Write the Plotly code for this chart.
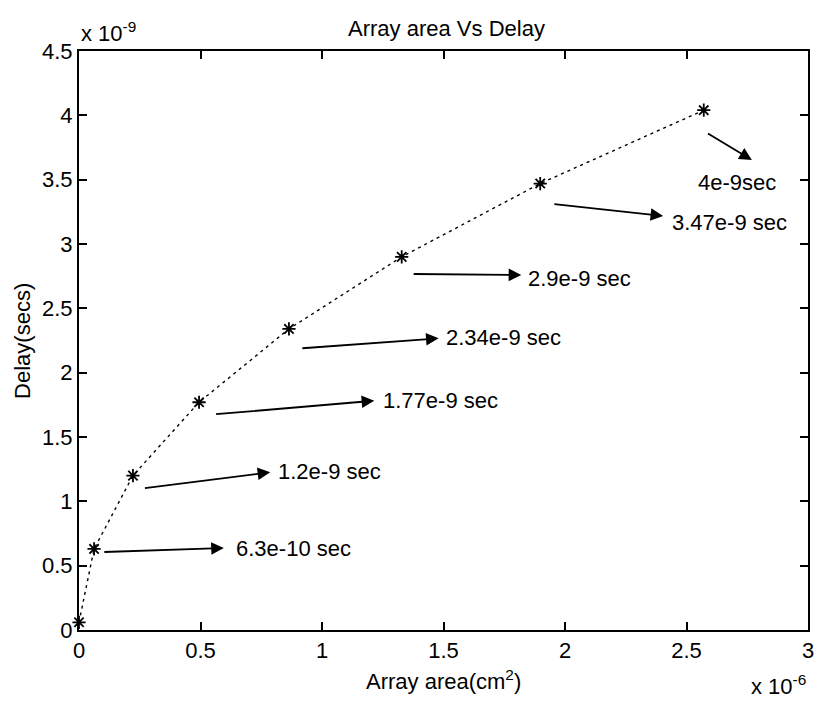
import plotly.graph_objects as go

# Data (x in units of 1e-6 cm^2, y in units of 1e-9 s)
area = [0.0, 0.062, 0.222, 0.494, 0.864, 1.328, 1.898, 2.571]
delay = [0.06, 0.63, 1.20, 1.77, 2.34, 2.90, 3.47, 4.04]

labels = ["6.3e-10 sec", "1.2e-9 sec", "1.77e-9 sec", "2.34e-9 sec",
          "2.9e-9 sec", "3.47e-9 sec", "4e-9sec"]
# arrow tails / heads and label anchors (data units)
tail_x = [0.098, 0.265, 0.558, 0.913, 1.371, 1.950, 2.582]
tail_y = [0.606, 1.101, 1.676, 2.189, 2.767, 3.311, 3.865]
head_x = [0.596, 0.787, 1.215, 1.480, 1.820, 2.404, 2.769]
head_y = [0.637, 1.226, 1.782, 2.267, 2.759, 3.218, 3.653]
text_x = [0.637, 0.812, 1.241, 1.501, 1.841, 2.433, 2.708]
text_y = [0.637, 1.230, 1.780, 2.272, 2.733, 3.171, 3.476]
text_anchor = ["left"] * 6 + ["center"]

xticks = [0, 0.5, 1, 1.5, 2, 2.5, 3]
yticks = [0, 0.5, 1, 1.5, 2, 2.5, 3, 3.5, 4, 4.5]

FONT = "Liberation Sans, Arial, Helvetica, sans-serif"
FS = 22

fig = go.Figure()
fig.add_trace(go.Scatter(
    x=area, y=delay, mode="lines+markers",
    line=dict(color="black", width=1.4, dash="3px,4px"),
    marker=dict(symbol="asterisk-open", size=11, color="black",
                line=dict(color="black", width=1.8)),
    showlegend=False, cliponaxis=False,
))

annotations = []
for i in range(len(labels)):
    annotations.append(dict(
        x=head_x[i], y=head_y[i], ax=tail_x[i], ay=tail_y[i],
        xref="x", yref="y", axref="x", ayref="y",
        text="", showarrow=True, arrowhead=2, arrowsize=1.4,
        arrowwidth=1.8, arrowcolor="black", standoff=0, startstandoff=0,
    ))
    annotations.append(dict(
        x=text_x[i], y=text_y[i], xref="x", yref="y",
        text=labels[i], showarrow=False, xanchor=text_anchor[i],
        yanchor="middle", font=dict(size=FS, color="black", family=FONT),
    ))

annotations += [
    dict(x=0.5, y=-0.0864, xref="paper", yref="paper",
         text="Array area(cm<sup>2</sup>)", showarrow=False,
         xanchor="center", yanchor="middle",
         font=dict(size=FS, color="black", family=FONT)),
    dict(x=-0.0776, y=0.5, xref="paper", yref="paper",
         text="Delay(secs)", showarrow=False, textangle=-90,
         xanchor="center", yanchor="middle",
         font=dict(size=FS, color="black", family=FONT)),
    dict(x=0.0, y=1.0, xref="paper", yref="paper",
         text="x 10<sup>-9</sup>", showarrow=False,
         xanchor="left", yanchor="bottom", yshift=3,
         font=dict(size=FS, color="black", family=FONT)),
    dict(x=1.0, y=-0.068, xref="paper", yref="paper",
         text="x 10<sup>-6</sup>", showarrow=False,
         xanchor="right", yanchor="top",
         font=dict(size=FS, color="black", family=FONT)),
]

axis_common = dict(
    showgrid=False, zeroline=False, showline=True, linecolor="black",
    linewidth=2, mirror="ticks", ticks="inside", ticklen=8, tickwidth=1.5,
    tickcolor="black", tickfont=dict(size=FS, color="black", family=FONT),
)

fig.update_layout(
    width=820, height=701,
    margin=dict(l=79, r=6, t=51, b=71),
    paper_bgcolor="white", plot_bgcolor="white",
    title=dict(text="Array area Vs Delay", x=0.5445, xanchor="center",
               y=1 - 28 / 701, yanchor="middle", yref="container",
               font=dict(size=FS, color="black", family=FONT)),
    xaxis=dict(range=[0, 3], tickvals=xticks,
               ticktext=[f"{v:g}" for v in xticks], **axis_common),
    yaxis=dict(range=[0, 4.5], tickvals=yticks,
               ticktext=[f"{v:g}" for v in yticks], **axis_common),
    annotations=annotations,
)

fig.write_html("out.html")
